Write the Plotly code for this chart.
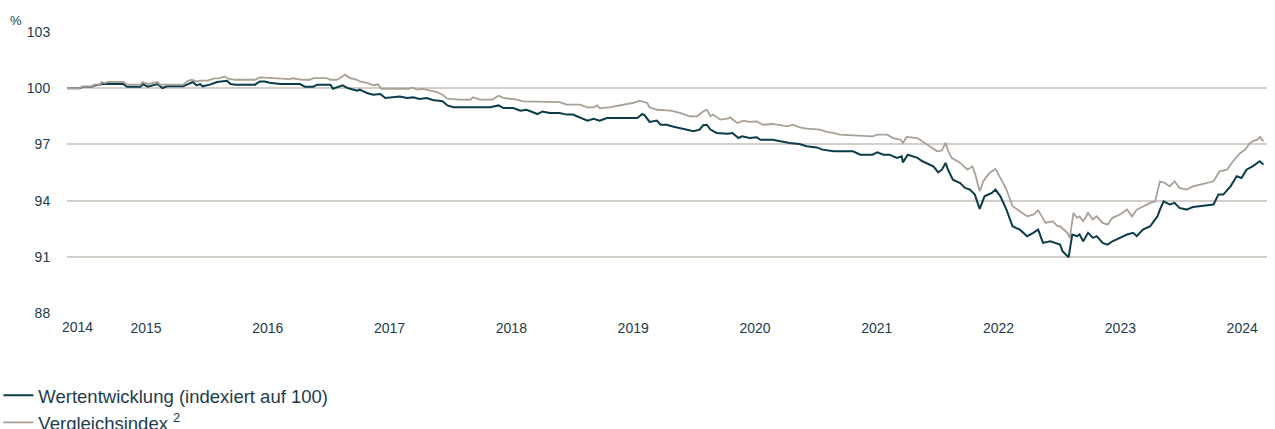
import plotly.graph_objects as go

# --- Data ---
jahre_fonds = [2014.327, 2014.43, 2014.46, 2014.53, 2014.55, 2014.62, 2014.79, 2014.82, 2014.93, 2014.95,
               2014.99, 2015.07, 2015.11, 2015.15, 2015.28, 2015.32, 2015.36, 2015.39, 2015.42, 2015.44,
               2015.50, 2015.56, 2015.61, 2015.64, 2015.67, 2015.71, 2015.87, 2015.91, 2015.95, 2015.99,
               2016.08, 2016.24, 2016.28, 2016.35, 2016.38, 2016.49, 2016.51, 2016.59, 2016.63, 2016.71,
               2016.73, 2016.79, 2016.84, 2016.90, 2016.94, 2017.00, 2017.06, 2017.12, 2017.17, 2017.22,
               2017.28, 2017.33, 2017.41, 2017.45, 2017.50, 2017.55, 2017.80, 2017.87, 2017.91, 2017.99,
               2018.05, 2018.10, 2018.19, 2018.23, 2018.29, 2018.37, 2018.43, 2018.48, 2018.54, 2018.60,
               2018.65, 2018.70, 2018.76, 2019.01, 2019.05, 2019.07, 2019.11, 2019.17, 2019.20, 2019.25,
               2019.30, 2019.36, 2019.42, 2019.47, 2019.52, 2019.55, 2019.58, 2019.61, 2019.66, 2019.75,
               2019.79, 2019.84, 2019.87, 2019.93, 2019.99, 2020.02, 2020.12, 2020.16, 2020.26, 2020.34,
               2020.40, 2020.48, 2020.53, 2020.62, 2020.78, 2020.84, 2020.94, 2020.98, 2021.03, 2021.08,
               2021.14, 2021.18, 2021.19, 2021.23, 2021.31, 2021.35, 2021.44, 2021.48, 2021.51, 2021.54,
               2021.56, 2021.60, 2021.66, 2021.70, 2021.74, 2021.78, 2021.82, 2021.86, 2021.92, 2021.95,
               2021.99, 2022.04, 2022.09, 2022.15, 2022.21, 2022.26, 2022.30, 2022.34, 2022.40, 2022.48,
               2022.50, 2022.55, 2022.58, 2022.62, 2022.64, 2022.67, 2022.71, 2022.75, 2022.78, 2022.83,
               2022.87, 2022.91, 2022.97, 2023.03, 2023.08, 2023.11, 2023.16, 2023.22, 2023.24, 2023.28,
               2023.30, 2023.33, 2023.38, 2023.42, 2023.46, 2023.52, 2023.57, 2023.63, 2023.69, 2023.74,
               2023.78, 2023.82, 2023.88, 2023.93, 2023.97, 2024.01, 2024.06, 2024.12, 2024.15]
wert_fonds = [100.00, 100.00, 100.08, 100.08, 100.15, 100.22, 100.22, 100.08, 100.08, 100.22,
              100.08, 100.22, 100.01, 100.10, 100.10, 100.22, 100.33, 100.15, 100.22, 100.10,
              100.19, 100.33, 100.36, 100.40, 100.22, 100.19, 100.19, 100.36, 100.36, 100.29,
              100.22, 100.22, 100.08, 100.08, 100.19, 100.19, 99.97, 100.15, 100.01, 99.87,
              99.92, 99.74, 99.65, 99.69, 99.48, 99.51, 99.56, 99.48, 99.51, 99.42,
              99.48, 99.37, 99.30, 99.08, 98.98, 98.98, 98.98, 99.08, 98.94, 98.94,
              98.80, 98.85, 98.62, 98.76, 98.68, 98.68, 98.59, 98.59, 98.44, 98.27,
              98.37, 98.27, 98.41, 98.41, 98.62, 98.55, 98.20, 98.27, 98.05, 98.05,
              97.96, 97.88, 97.79, 97.70, 97.79, 98.02, 98.05, 97.79, 97.61, 97.57,
              97.61, 97.34, 97.43, 97.34, 97.38, 97.25, 97.25, 97.20, 97.08, 97.02,
              96.90, 96.84, 96.72, 96.63, 96.63, 96.45, 96.45, 96.58, 96.45, 96.45,
              96.28, 96.36, 96.04, 96.45, 96.28, 96.10, 95.83, 95.51, 95.65, 96.01,
              95.65, 95.12, 94.94, 94.68, 94.59, 94.32, 93.56, 94.23, 94.41, 94.59,
              94.23, 93.52, 92.63, 92.45, 92.10, 92.28, 92.45, 91.74, 91.83, 91.65,
              91.30, 90.97, 92.19, 92.10, 92.19, 91.83, 92.28, 92.01, 92.10, 91.74,
              91.65, 91.83, 92.01, 92.19, 92.28, 92.10, 92.45, 92.63, 92.81, 93.16,
              93.52, 93.96, 93.79, 93.88, 93.61, 93.52, 93.66, 93.70, 93.73, 93.79,
              94.32, 94.32, 94.76, 95.30, 95.21, 95.65, 95.83, 96.10, 95.92]

jahre_index = [2014.327, 2014.43, 2014.45, 2014.53, 2014.55, 2014.60, 2014.61, 2014.64, 2014.66, 2014.79,
               2014.82, 2014.93, 2014.95, 2014.99, 2015.07, 2015.09, 2015.28, 2015.31, 2015.35, 2015.39,
               2015.42, 2015.48, 2015.53, 2015.58, 2015.62, 2015.65, 2015.71, 2015.87, 2015.91, 2015.99,
               2016.08, 2016.16, 2016.18, 2016.26, 2016.32, 2016.35, 2016.46, 2016.49, 2016.54, 2016.57,
               2016.61, 2016.65, 2016.71, 2016.73, 2016.79, 2016.84, 2016.88, 2016.91, 2017.14, 2017.16,
               2017.20, 2017.25, 2017.31, 2017.36, 2017.41, 2017.45, 2017.55, 2017.64, 2017.66, 2017.72,
               2017.82, 2017.87, 2017.91, 2017.96, 2018.02, 2018.07, 2018.21, 2018.27, 2018.37, 2018.43,
               2018.54, 2018.60, 2018.65, 2018.68, 2018.70, 2018.78, 2018.87, 2018.92, 2018.97, 2019.03,
               2019.09, 2019.11, 2019.17, 2019.28, 2019.36, 2019.44, 2019.50, 2019.55, 2019.58, 2019.61,
               2019.63, 2019.69, 2019.75, 2019.77, 2019.83, 2019.88, 2019.93, 2019.99, 2020.04, 2020.12,
               2020.24, 2020.29, 2020.34, 2020.40, 2020.51, 2020.57, 2020.62, 2020.67, 2020.84, 2020.94,
               2020.98, 2021.06, 2021.11, 2021.17, 2021.19, 2021.22, 2021.31, 2021.35, 2021.41, 2021.47,
               2021.51, 2021.54, 2021.56, 2021.59, 2021.66, 2021.72, 2021.76, 2021.78, 2021.82, 2021.85,
               2021.90, 2021.95, 2021.99, 2022.04, 2022.09, 2022.15, 2022.21, 2022.26, 2022.30, 2022.33,
               2022.36, 2022.42, 2022.46, 2022.48, 2022.54, 2022.56, 2022.59, 2022.62, 2022.64, 2022.67,
               2022.71, 2022.75, 2022.78, 2022.83, 2022.87, 2022.91, 2022.97, 2023.03, 2023.07, 2023.11,
               2023.16, 2023.22, 2023.26, 2023.30, 2023.34, 2023.38, 2023.42, 2023.46, 2023.52, 2023.57,
               2023.63, 2023.69, 2023.74, 2023.79, 2023.85, 2023.90, 2023.96, 2024.00, 2024.04, 2024.06,
               2024.10, 2024.12, 2024.15]
wert_index = [100.00, 100.00, 100.08, 100.08, 100.19, 100.19, 100.33, 100.27, 100.33, 100.33,
              100.19, 100.19, 100.33, 100.22, 100.33, 100.19, 100.19, 100.36, 100.45, 100.36,
              100.40, 100.40, 100.51, 100.54, 100.63, 100.51, 100.45, 100.45, 100.58, 100.54,
              100.48, 100.48, 100.53, 100.45, 100.45, 100.54, 100.54, 100.45, 100.45, 100.54,
              100.72, 100.54, 100.45, 100.36, 100.28, 100.15, 100.21, 99.97, 99.97, 100.04,
              99.92, 99.96, 99.87, 99.80, 99.65, 99.44, 99.39, 99.39, 99.51, 99.39,
              99.39, 99.60, 99.48, 99.44, 99.39, 99.30, 99.30, 99.26, 99.26, 99.12,
              99.12, 98.98, 98.98, 99.08, 98.94, 98.98, 99.08, 99.12, 99.21, 99.33,
              99.21, 98.98, 98.85, 98.80, 98.68, 98.50, 98.50, 98.76, 98.85, 98.50,
              98.59, 98.32, 98.37, 98.44, 98.14, 98.27, 98.20, 98.23, 98.05, 98.09,
              97.96, 98.05, 97.91, 97.84, 97.79, 97.66, 97.61, 97.52, 97.48, 97.43,
              97.52, 97.52, 97.34, 97.25, 97.08, 97.40, 97.34, 97.16, 96.93, 96.63,
              96.68, 97.08, 96.68, 96.28, 96.01, 95.65, 95.83, 95.48, 94.50, 95.03,
              95.48, 95.69, 95.21, 94.59, 93.70, 93.43, 93.16, 93.25, 93.48, 93.16,
              92.81, 92.90, 92.63, 92.63, 92.28, 92.01, 93.34, 93.08, 93.16, 92.90,
              93.34, 92.99, 93.16, 92.81, 92.72, 93.08, 93.25, 93.52, 93.16, 93.52,
              93.70, 93.88, 93.96, 95.03, 94.94, 94.76, 95.03, 94.68, 94.59, 94.76,
              94.85, 94.94, 95.03, 95.56, 95.65, 96.10, 96.54, 96.72, 97.08, 97.16,
              97.25, 97.40, 97.16]

x_tick_vals = [2015, 2016, 2017, 2018, 2019, 2020, 2021, 2022, 2023, 2024]
x_tick_text = ["2015", "2016", "2017", "2018", "2019", "2020", "2021", "2022", "2023", "2024"]
x_start_label = "2014"
y_tick_vals = [88, 91, 94, 97, 100, 103]
y_tick_text = ["88", "91", "94", "97", "100", "103"]
name_fonds = "Wertentwicklung (indexiert auf 100)"
name_index = "Vergleichsindex <sup>2</sup>"

FONT = "Liberation Sans, Arial, sans-serif"
TEXT_COLOR = "#1d3c4c"
DARK = "#0c3c4a"
GREY = "#a9a097"
GRID = "#d3cec8"

fig = go.Figure()
fig.add_trace(go.Scatter(x=jahre_fonds, y=wert_fonds, mode="lines", name=name_fonds,
                         line=dict(color=DARK, width=2)))
fig.add_trace(go.Scatter(x=jahre_index, y=wert_index, mode="lines", name=name_index,
                         line=dict(color=GREY, width=1.8)))

fig.update_layout(
    width=1275, height=429,
    margin=dict(l=67, r=8, t=32, b=116, autoexpand=False),
    paper_bgcolor="white", plot_bgcolor="white",
    font=dict(family=FONT, color=TEXT_COLOR, size=14),
    showlegend=True,
    legend=dict(x=-0.0572, xanchor="left", y=-0.227, yanchor="top",
                font=dict(size=18.5, color=TEXT_COLOR, family=FONT),
                tracegroupgap=0, itemwidth=30, bgcolor="rgba(0,0,0,0)"),
    xaxis=dict(range=[2014.327, 2024.179], tickmode="array", tickvals=x_tick_vals,
               ticktext=x_tick_text, showgrid=False, zeroline=False, showline=False,
               ticks="outside", ticklen=2, tickcolor="rgba(0,0,0,0)",
               ticklabelshift=-3, tickfont=dict(size=14, color=TEXT_COLOR)),
    yaxis=dict(range=[88, 103], tickmode="array", tickvals=y_tick_vals, ticktext=y_tick_text,
               showgrid=True, gridcolor=GRID, gridwidth=1.6, zeroline=False, showline=False,
               ticks="outside", ticklen=13, tickcolor="rgba(0,0,0,0)",
               tickfont=dict(size=14, color=TEXT_COLOR)),
)

fig.add_annotation(text=x_start_label, xref="x", yref="paper", x=2014.327, y=0,
                   xanchor="left", yanchor="top", xshift=-7, yshift=-4, showarrow=False,
                   font=dict(size=14, color=TEXT_COLOR, family=FONT))
fig.add_annotation(text="%", xref="paper", yref="paper", x=0, y=1, xanchor="center",
                   yanchor="middle", xshift=-51, yshift=12, showarrow=False,
                   font=dict(size=13, color=TEXT_COLOR, family=FONT))

fig.write_html("out.html", config={"displayModeBar": False},
               post_script="document.body.style.margin='0';")
